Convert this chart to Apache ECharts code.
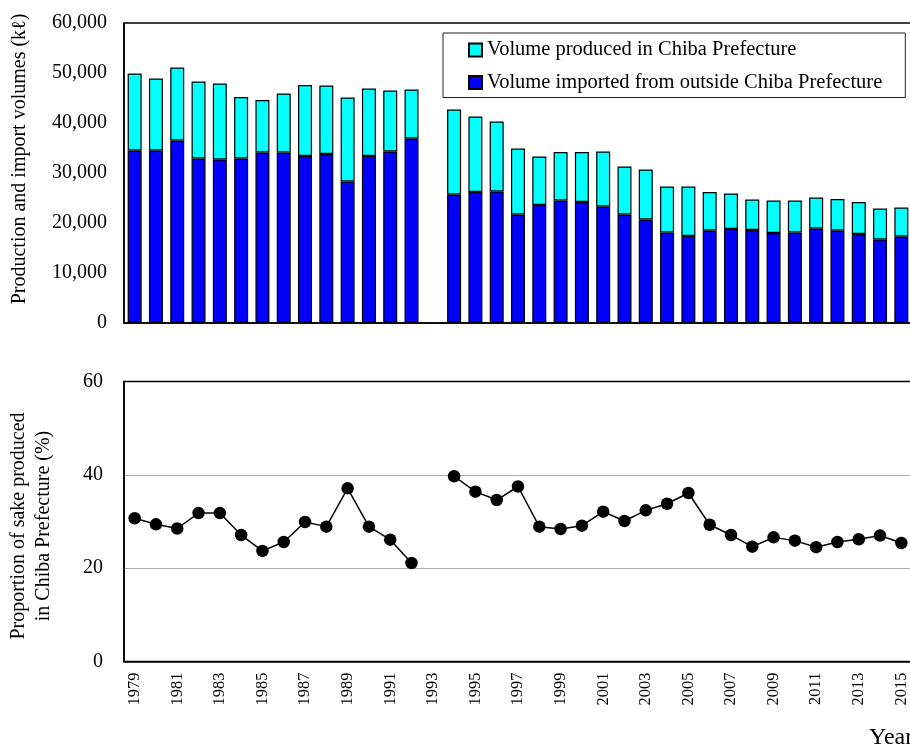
<!DOCTYPE html>
<html>
<head>
<meta charset="utf-8">
<script src="https://cdn.jsdelivr.net/npm/echarts@6/dist/echarts.min.js"></script>
<style>
  html, body { margin: 0; padding: 0; background: #fff; }
  #chart { width: 910px; height: 752px; }
</style>
</head>
<body>
<div id="chart"></div>
<script>
// Fiscal years 1979–2015 (no survey for 1993)
const years = [];
for (let y = 1979; y <= 2015; y++) years.push(String(y));

// Volume imported from outside Chiba Prefecture (kℓ)
const importedVol = [34500, 34500, 36500, 32900, 32700, 32900, 34100, 34100, 33400, 33800,
  28300, 33400, 34300, 36900, null, 25700, 26200, 26300, 21700, 23600,
  24500, 24200, 23300, 21700, 20700, 18100, 17400, 18500, 18800, 18600,
  18000, 18100, 18900, 18500, 17800, 16700, 17300];

// Volume produced in Chiba Prefecture (kℓ)
const producedVol = [15400, 14400, 14600, 15400, 15200, 12300, 10500, 11800, 14200, 13700,
  16800, 13500, 12200, 9800, null, 17000, 15100, 14000, 13200, 9700,
  9700, 10000, 11000, 9600, 10000, 9200, 9900, 7700, 7100, 6100,
  6500, 6400, 6200, 6300, 6400, 6200, 5800];

// Share of sake produced in Chiba Prefecture (%)
const producedShare = [30.7, 29.4, 28.5, 31.8, 31.8, 27.1, 23.7, 25.6, 29.9, 28.9,
  37.1, 28.9, 26.1, 21.1, null, 39.7, 36.4, 34.6, 37.5, 28.9,
  28.4, 29.1, 32.1, 30.1, 32.4, 33.8, 36.1, 29.3, 27.1, 24.6,
  26.6, 25.9, 24.5, 25.6, 26.2, 27.0, 25.4];

const volumeTicks = { min: 0, max: 60000, interval: 10000 };
const shareTicks = { min: 0, max: 60, interval: 20 };

const serif = 'Liberation Serif';
const nameProduced = 'Volume produced in Chiba Prefecture';
const nameImported = 'Volume imported from outside Chiba Prefecture';

const chart = echarts.init(document.getElementById('chart'), null, { renderer: 'canvas' });

chart.setOption({
  animation: false,
  backgroundColor: '#fff',
  textStyle: { fontFamily: serif, color: '#000' },
  grid: [
    { left: 124, top: 23, width: 788, height: 300, outerBoundsMode: 'none', containLabel: false,
      show: true, borderColor: '#000', borderWidth: 1.5, backgroundColor: 'transparent' },
    { left: 124, top: 381.5, width: 788, height: 280, outerBoundsMode: 'none', containLabel: false,
      show: true, borderColor: '#000', borderWidth: 1.5, backgroundColor: 'transparent' }
  ],
  legend: {
    left: 443, top: 33,
    orient: 'vertical',
    data: [nameProduced, nameImported],
    backgroundColor: '#fff',
    borderColor: '#222',
    borderWidth: 1,
    padding: [6.5, 23, 4.5, 25],
    itemGap: 11.5,
    itemWidth: 13,
    itemHeight: 13,
    itemTextGap: 5,
    icon: 'rect',
    textStyle: { fontFamily: serif, fontSize: 20.5, color: '#000' }
  },
  xAxis: [
    {
      type: 'category', gridIndex: 0, data: years,
      axisLine: { lineStyle: { color: '#000', width: 1.5 } },
      axisTick: { inside: true, length: 5, interval: 0, lineStyle: { color: '#000' } },
      axisLabel: { show: false }
    },
    {
      type: 'category', gridIndex: 1, data: years,
      axisLine: { lineStyle: { color: '#000', width: 1.5 } },
      axisTick: { inside: true, length: 6, interval: 0, lineStyle: { color: '#000' } },
      axisLabel: { interval: 1, rotate: 90, margin: 11, fontFamily: serif, fontSize: 16.5, color: '#000' }
    }
  ],
  yAxis: [
    {
      type: 'value', gridIndex: 0,
      min: volumeTicks.min, max: volumeTicks.max, interval: volumeTicks.interval,
      axisLine: { show: true, lineStyle: { color: '#000', width: 1.5 } },
      axisTick: { show: false },
      splitLine: { show: false },
      axisLabel: {
        margin: 17, fontFamily: serif, fontSize: 20, color: '#000',
        formatter: v => v.toLocaleString('en-US')
      }
    },
    {
      type: 'value', gridIndex: 1,
      min: shareTicks.min, max: shareTicks.max, interval: shareTicks.interval,
      axisLine: { show: true, lineStyle: { color: '#000', width: 1.5 } },
      axisTick: { show: false },
      splitLine: { show: true, showMinLine: false, showMaxLine: false, lineStyle: { color: '#aaa', width: 1 } },
      axisLabel: { margin: 21, fontFamily: serif, fontSize: 20, color: '#000' }
    }
  ],
  series: [
    {
      name: nameImported, type: 'bar', stack: 'vol',
      xAxisIndex: 0, yAxisIndex: 0,
      data: importedVol, barWidth: 14,
      itemStyle: { color: '#0000ff', borderColor: '#000', borderWidth: 1.2 }
    },
    {
      name: nameProduced, type: 'bar', stack: 'vol',
      xAxisIndex: 0, yAxisIndex: 0,
      data: producedVol, barWidth: 14,
      itemStyle: { color: '#00ffff', borderColor: '#000', borderWidth: 1.2 }
    },
    {
      name: 'share', type: 'line',
      xAxisIndex: 1, yAxisIndex: 1,
      data: producedShare,
      connectNulls: false,
      symbol: 'circle', symbolSize: 12.5,
      lineStyle: { color: '#000', width: 1.5 },
      itemStyle: { color: '#000' }
    }
  ],
  graphic: [
    {
      type: 'text', x: 20, y: 159, rotation: Math.PI / 2,
      style: {
        text: 'Production and import volumes (kℓ)',
        font: '20px "Liberation Serif"', fill: '#000',
        align: 'center', verticalAlign: 'middle'
      }
    },
    {
      type: 'text', x: 31, y: 526, rotation: Math.PI / 2,
      style: {
        text: 'Proportion of sake produced\nin Chiba Prefecture (%)',
        font: '20px "Liberation Serif"', fill: '#000', lineHeight: 25,
        align: 'center', verticalAlign: 'middle'
      }
    },
    {
      type: 'text', x: 869, y: 738,
      style: {
        text: 'Year', font: '24px "Liberation Serif"', fill: '#000',
        align: 'left', verticalAlign: 'middle'
      }
    }
  ]
});
</script>
</body>
</html>
